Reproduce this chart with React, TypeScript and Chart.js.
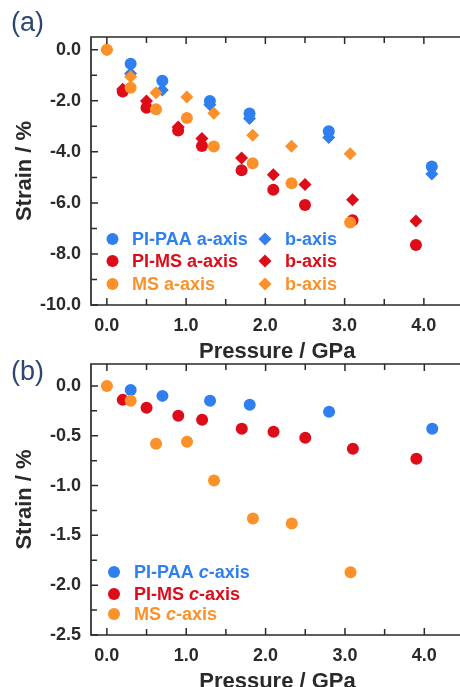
import React, { useEffect, useRef } from 'react';
import { Chart, registerables } from 'chart.js';

Chart.register(...registerables);

// ---------- data ----------
const pressurePAA = [0.3, 0.7, 1.3, 1.8, 2.8, 4.1];
const paaAaxis = [-0.55, -1.21, -2.01, -2.5, -3.19, -4.57];
const paaBaxis = [-0.93, -1.58, -2.15, -2.69, -3.44, -4.87];
const paaCaxis = [-0.04, -0.1, -0.15, -0.19, -0.26, -0.43];

const pressurePIMS = [0.2, 0.5, 0.9, 1.2, 1.7, 2.1, 2.5, 3.1, 3.9];
const pimsAaxis = [-1.64, -2.27, -3.16, -3.77, -4.72, -5.48, -6.08, -6.68, -7.65];
const pimsBaxis = [-1.55, -2.01, -3.03, -3.48, -4.24, -4.9, -5.28, -5.88, -6.71];
const pimsCaxis = [-0.14, -0.22, -0.3, -0.34, -0.43, -0.46, -0.52, -0.63, -0.73];

const pressureMS = [0.0, 0.3, 0.62, 1.01, 1.35, 1.84, 2.33, 3.07];
const msAaxis = [0, -1.49, -2.33, -2.67, -3.79, -4.45, -5.23, -6.77];
const msBaxis = [0, -1.06, -1.68, -1.85, -2.49, -3.35, -3.78, -4.07];
const msCaxis = [0, -0.15, -0.58, -0.56, -0.95, -1.33, -1.38, -1.87];

const xMajorTicks = [0, 1, 2, 3, 4];
const xMinorTicks = [0.5, 1.5, 2.5, 3.5];
const yMajorTicksA = [0, -2, -4, -6, -8, -10];
const yMinorTicksA = [-1, -3, -5, -7, -9];
const yMajorTicksB = [0, -0.5, -1, -1.5, -2, -2.5];
const yMinorTicksB = [-0.25, -0.75, -1.25, -1.75, -2.25];

const xTitle = 'Pressure / GPa';
const yTitle = 'Strain / %';

// ---------- styles ----------
const BLUE = '#2f7ff0';
const RED = '#de0c18';
const ORANGE = '#fb9128';
const INK = '#2a2a2a';
const NAVY = '#2e4670';
const FONT = '"Liberation Sans", Arial, sans-serif';

const pts = (xs: number[], ys: number[]) => xs.map((x, i) => ({ x, y: ys[i] }));

const ds = (label: string, xs: number[], ys: number[], color: string, style: string) => ({
  label,
  data: pts(xs, ys),
  backgroundColor: color,
  borderColor: color,
  pointStyle: style,
  pointRadius: style === 'circle' ? 6 : 6.5,
  pointBorderWidth: 0,
  showLine: false,
});

const framePlugin = {
  id: 'frame',
  afterDatasetsDraw(chart: any, _args: any, opts: any) {
    const { ctx, chartArea } = chart;
    const { left, right, top, bottom } = chartArea;
    const xs = chart.scales.x;
    const ys = chart.scales.y;
    ctx.save();
    ctx.strokeStyle = INK;
    ctx.lineWidth = 1.7;
    ctx.beginPath();
    ctx.moveTo(left, top);
    ctx.lineTo(right, top);
    ctx.lineTo(right, bottom);
    ctx.lineTo(left, bottom);
    ctx.closePath();
    ctx.stroke();
    ctx.lineWidth = 1.5;
    ctx.beginPath();
    const xm = (v: number, len: number) => {
      const p = xs.getPixelForValue(v);
      ctx.moveTo(p, bottom);
      ctx.lineTo(p, bottom - len);
      ctx.moveTo(p, top);
      ctx.lineTo(p, top + len);
    };
    xMajorTicks.forEach((v) => xm(v, 7));
    xMinorTicks.forEach((v) => xm(v, 6));
    const ym = (v: number, len: number) => {
      const p = ys.getPixelForValue(v);
      ctx.moveTo(left, p);
      ctx.lineTo(left + len, p);
    };
    opts.yMajor.forEach((v: number) => ym(v, 7));
    opts.yMinor.forEach((v: number) => ym(v, 6));
    ctx.stroke();
    ctx.restore();
  },
};

const legendPlugin = {
  id: 'customLegend',
  afterDraw(chart: any, _args: any, opts: any) {
    const { ctx } = chart;
    ctx.save();
    // panel label
    ctx.fillStyle = NAVY;
    ctx.font = `normal 27px ${FONT}`;
    ctx.textBaseline = 'middle';
    ctx.textAlign = 'left';
    ctx.fillText(opts.panel, opts.panelX, opts.panelY);
    for (const it of opts.items) {
      ctx.fillStyle = it.color;
      ctx.beginPath();
      if (it.shape === 'circle') {
        ctx.arc(it.mx, it.y, 6, 0, Math.PI * 2);
      } else {
        const r = 6.5;
        ctx.moveTo(it.mx - r, it.y);
        ctx.lineTo(it.mx, it.y - r);
        ctx.lineTo(it.mx + r, it.y);
        ctx.lineTo(it.mx, it.y + r);
        ctx.closePath();
      }
      ctx.fill();
      let x = it.tx;
      for (const part of it.parts) {
        ctx.font = `${part.italic ? 'italic ' : ''}bold 18px ${FONT}`;
        ctx.fillText(part.text, x, it.y + 1);
        x += ctx.measureText(part.text).width;
      }
    }
    ctx.restore();
  },
};

function makeConfig(
  datasets: any[],
  yMin: number,
  yMax: number,
  yMajor: number[],
  yMinor: number[],
  padTop: number,
  legend: any
) {
  const majorSet = new Set(yMajor.map((v) => v.toFixed(2)));
  const xMajorSet = new Set(xMajorTicks.map((v) => v.toFixed(2)));
  return {
    type: 'scatter',
    data: { datasets },
    plugins: [framePlugin, legendPlugin],
    options: {
      animation: false,
      responsive: false,
      devicePixelRatio: 1,
      layout: { padding: { top: padTop, right: 2, left: 0, bottom: 0 } },
      plugins: {
        legend: { display: false },
        tooltip: { enabled: false },
        frame: { yMajor, yMinor },
        customLegend: legend,
      },
      scales: {
        x: {
          type: 'linear',
          min: -0.2,
          max: 4.5,
          afterBuildTicks: (s: any) => {
            s.ticks = [...xMajorTicks, ...xMinorTicks].sort((a, b) => a - b).map((v) => ({ value: v }));
          },
          afterFit: (s: any) => {
            s.height = 60;
          },
          grid: { display: false, drawTicks: false },
          border: { display: false },
          ticks: {
            autoSkip: false,
            maxRotation: 0,
            padding: 10,
            color: INK,
            font: { family: FONT, size: 18, weight: 'bold' },
            callback: (v: number) => (xMajorSet.has(Number(v).toFixed(2)) ? Number(v).toFixed(1) : ''),
          },
          title: {
            display: true,
            text: xTitle,
            color: INK,
            padding: { top: 0, bottom: 0 },
            font: { family: FONT, size: 22, weight: 'bold' },
          },
        },
        y: {
          type: 'linear',
          min: yMin,
          max: yMax,
          afterBuildTicks: (s: any) => {
            s.ticks = [...yMajor, ...yMinor].sort((a, b) => a - b).map((v) => ({ value: v }));
          },
          afterFit: (s: any) => {
            s.width = 91;
          },
          grid: { display: false, drawTicks: false },
          border: { display: false },
          ticks: {
            autoSkip: false,
            padding: 10,
            color: INK,
            font: { family: FONT, size: 18, weight: 'bold' },
            callback: (v: number) => {
              const k = Number(v).toFixed(2);
              if (!majorSet.has(k)) return '';
              const s = Number(v).toFixed(1);
              return s === '-0.0' ? '0.0' : s;
            },
          },
          title: {
            display: true,
            text: yTitle,
            color: INK,
            padding: { top: 12, bottom: 0 },
            font: { family: FONT, size: 22, weight: 'bold' },
          },
        },
      },
    },
  } as any;
}

export default function App() {
  const refA = useRef<HTMLCanvasElement>(null);
  const refB = useRef<HTMLCanvasElement>(null);

  useEffect(() => {
    const datasetsA = [
      ds('MS a-axis', pressureMS, msAaxis, ORANGE, 'circle'),
      ds('MS b-axis', pressureMS, msBaxis, ORANGE, 'rectRot'),
      ds('PI-MS a-axis', pressurePIMS, pimsAaxis, RED, 'circle'),
      ds('PI-MS b-axis', pressurePIMS, pimsBaxis, RED, 'rectRot'),
      ds('PI-PAA a-axis', pressurePAA, paaAaxis, BLUE, 'circle'),
      ds('PI-PAA b-axis', pressurePAA, paaBaxis, BLUE, 'rectRot'),
    ];
    const legendA = {
      panel: '(a)',
      panelX: 11,
      panelY: 24,
      items: [
        { shape: 'circle', color: BLUE, mx: 112.5, tx: 132, y: 239, parts: [{ text: 'PI-PAA a-axis' }] },
        { shape: 'circle', color: RED, mx: 112.5, tx: 132, y: 261, parts: [{ text: 'PI-MS a-axis' }] },
        { shape: 'circle', color: ORANGE, mx: 112.5, tx: 132, y: 284, parts: [{ text: 'MS a-axis' }] },
        { shape: 'diamond', color: BLUE, mx: 265, tx: 285, y: 239, parts: [{ text: 'b-axis' }] },
        { shape: 'diamond', color: RED, mx: 265, tx: 285, y: 261, parts: [{ text: 'b-axis' }] },
        { shape: 'diamond', color: ORANGE, mx: 265, tx: 285, y: 284, parts: [{ text: 'b-axis' }] },
      ],
    };
    const datasetsB = [
      ds('MS c-axis', pressureMS, msCaxis, ORANGE, 'circle'),
      ds('PI-MS c-axis', pressurePIMS, pimsCaxis, RED, 'circle'),
      ds('PI-PAA c-axis', pressurePAA, paaCaxis, BLUE, 'circle'),
    ];
    const legendB = {
      panel: '(b)',
      panelX: 11,
      panelY: 33,
      items: [
        { shape: 'circle', color: BLUE, mx: 114, tx: 134, y: 232, parts: [{ text: 'PI-PAA ' }, { text: 'c', italic: true }, { text: '-axis' }] },
        { shape: 'circle', color: RED, mx: 114, tx: 134, y: 254, parts: [{ text: 'PI-MS ' }, { text: 'c', italic: true }, { text: '-axis' }] },
        { shape: 'circle', color: ORANGE, mx: 114, tx: 134, y: 274, parts: [{ text: 'MS ' }, { text: 'c', italic: true }, { text: '-axis' }] },
      ],
    };
    const chartA = new Chart(refA.current as any, makeConfig(datasetsA, -10, 0.5, yMajorTicksA, yMinorTicksA, 37, legendA));
    const chartB = new Chart(refB.current as any, makeConfig(datasetsB, -2.5, 0.22, yMajorTicksB, yMinorTicksB, 24, legendB));
    return () => {
      chartA.destroy();
      chartB.destroy();
    };
  }, []);

  return (
    <div
      style={{
        position: 'fixed',
        left: 0,
        top: 0,
        width: 460,
        height: 687,
        overflow: 'hidden',
        background: '#ffffff',
      }}
    >
      <canvas ref={refA} width={470} height={365} style={{ position: 'absolute', left: 0, top: 0 }} />
      <canvas ref={refB} width={470} height={355} style={{ position: 'absolute', left: 0, top: 340 }} />
    </div>
  );
}
